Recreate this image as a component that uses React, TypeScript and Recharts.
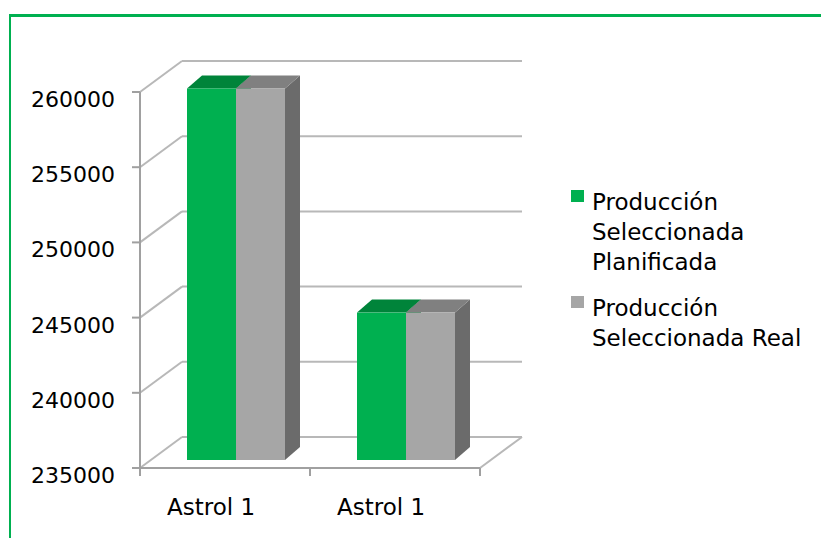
import { BarChart, Bar, XAxis, YAxis, CartesianGrid, Legend } from "recharts";

// data
const categories = ["Astrol 1", "Astrol 1"];
const planificada = [259700, 244800];
const real = [259700, 244800];
const yTicks = [235000, 240000, 245000, 250000, 255000, 260000];
const seriesNames = ["Producción Seleccionada Planificada", "Producción Seleccionada Real"];

const data = categories.map((name, i) => ({ name, plan: planificada[i], real: real[i] }));

const W = 821;
const H = 538;
const X_AXIS_H = 60;
const M = { top: 92, right: 341, bottom: 10, left: 10 };
const FLOOR_Y = H - M.bottom - X_AXIS_H;

// fake 3D: back wall depth, bar offset behind front plane, bar depth
const WALL = { dx: 42, dy: -31 };
const BAR_POS = { dx: 11, dy: -8 };
const BAR_DEPTH = { dx: 15, dy: -13 };

const GRID = "#b8b8b8";
const AXIS = "#a0a0a0";
const FONT = "'DejaVu Sans', sans-serif";

const GREEN = { front: "#00b050", top: "#00843a", side: "#00843a" };
const GREY = { front: "#a6a6a6", top: "#808080", side: "#6b6b6b" };

function WallLine(props: any) {
  const { x1, y1, x2 } = props;
  const isFloor = Math.abs(y1 - FLOOR_Y) < 1;
  const bx = WALL.dx;
  const by = WALL.dy;
  return (
    <g key={props.key}>
      <line x1={x1} y1={y1} x2={x1 + bx} y2={y1 + by} stroke={GRID} strokeWidth={2} />
      <line x1={x1 + bx} y1={y1 + by} x2={x2 + bx} y2={y1 + by} stroke={GRID} strokeWidth={2} />
      {isFloor && <line x1={x2} y1={y1} x2={x2 + bx} y2={y1 + by} stroke={GRID} strokeWidth={2} />}
    </g>
  );
}

function Bar3D(props: any) {
  const { x, y, width, height, colors } = props;
  if (!width || height == null) return null;
  const fx = x + BAR_POS.dx;
  const fy = y + BAR_POS.dy;
  const { dx, dy } = BAR_DEPTH;
  const top = `M${fx},${fy} L${fx + dx},${fy + dy} L${fx + width + dx},${fy + dy} L${fx + width},${fy} Z`;
  const side = `M${fx + width},${fy} L${fx + width + dx},${fy + dy} L${fx + width + dx},${fy + height + dy} L${fx + width},${fy + height} Z`;
  return (
    <g>
      <path d={side} fill={colors.side} />
      <path d={top} fill={colors.top} />
      <rect x={fx} y={fy} width={width} height={height} fill={colors.front} />
    </g>
  );
}

function YTick(props: any) {
  const { x, y, payload } = props;
  return (
    <text x={x} y={y} dy={15} textAnchor="end" fontSize={22} fill="#000" fontFamily={FONT}>
      {payload.value}
    </text>
  );
}

function XTick(props: any) {
  const { x, y, payload, index, visibleTicksCount } = props;
  const half = payload.offset ?? (W - M.left - M.right - 130) / categories.length / 2;
  const axisY = y - 8;
  return (
    <g>
      <line x1={x - half} y1={axisY} x2={x - half} y2={axisY + 8} stroke={AXIS} strokeWidth={2} />
      {index === visibleTicksCount - 1 && (
        <line x1={x + half} y1={axisY} x2={x + half} y2={axisY + 8} stroke={AXIS} strokeWidth={2} />
      )}
      <text x={x - 14} y={axisY + 47} textAnchor="middle" fontSize={23} fill="#000" fontFamily={FONT}>
        {payload.value}
      </text>
    </g>
  );
}

function LegendBox({ payload }: any) {
  return (
    <div style={{ fontFamily: FONT }}>
      {(payload ?? []).map((item: any, i: number) => (
        <div key={i} style={{ display: "flex", alignItems: "flex-start", marginBottom: 16 }}>
          <span
            style={{ width: 13, height: 12, background: item.color, marginTop: 3, marginRight: 8, flex: "none" }}
          />
          <span style={{ width: 222, lineHeight: "30px", fontSize: 23, color: "#000" }}>{item.value}</span>
        </div>
      ))}
    </div>
  );
}

export default function App() {
  return (
    <div
      style={{
        position: "absolute",
        left: 0,
        top: 0,
        width: W,
        height: H,
        overflow: "hidden",
        background: "#fff",
        fontFamily: FONT,
      }}
    >
      <div
        style={{
          position: "absolute",
          left: 9,
          top: 14,
          width: 900,
          height: 600,
          borderTop: "3px solid #00b050",
          borderLeft: "2px solid #00b050",
        }}
      />
      <BarChart width={W} height={H} data={data} margin={M} barGap={0} barSize={49}>
        <CartesianGrid vertical={false} horizontal={WallLine} />
        <XAxis
          dataKey="name"
          height={X_AXIS_H}
          tickSize={8}
          tickMargin={0}
          tickLine={false}
          interval={0}
          axisLine={{ stroke: AXIS, strokeWidth: 2 }}
          tick={<XTick />}
        />
        <YAxis
          type="number"
          domain={[235000, 260000]}
          ticks={yTicks}
          interval={0}
          width={130}
          tickSize={8}
          tickMargin={17}
          axisLine={{ stroke: AXIS, strokeWidth: 2 }}
          tickLine={{ stroke: AXIS, strokeWidth: 2 }}
          tick={<YTick />}
        />
        <Legend
          layout="horizontal"
          align="center"
          verticalAlign="middle"
          wrapperStyle={{ left: 571, top: 187, width: 250 }}
          content={<LegendBox />}
        />
        <Bar
          dataKey="plan"
          name={seriesNames[0]}
          fill={GREEN.front}
          isAnimationActive={false}
          shape={(p: any) => <Bar3D {...p} colors={GREEN} />}
        />
        <Bar
          dataKey="real"
          name={seriesNames[1]}
          fill={GREY.front}
          isAnimationActive={false}
          shape={(p: any) => <Bar3D {...p} colors={GREY} />}
        />
      </BarChart>
    </div>
  );
}
